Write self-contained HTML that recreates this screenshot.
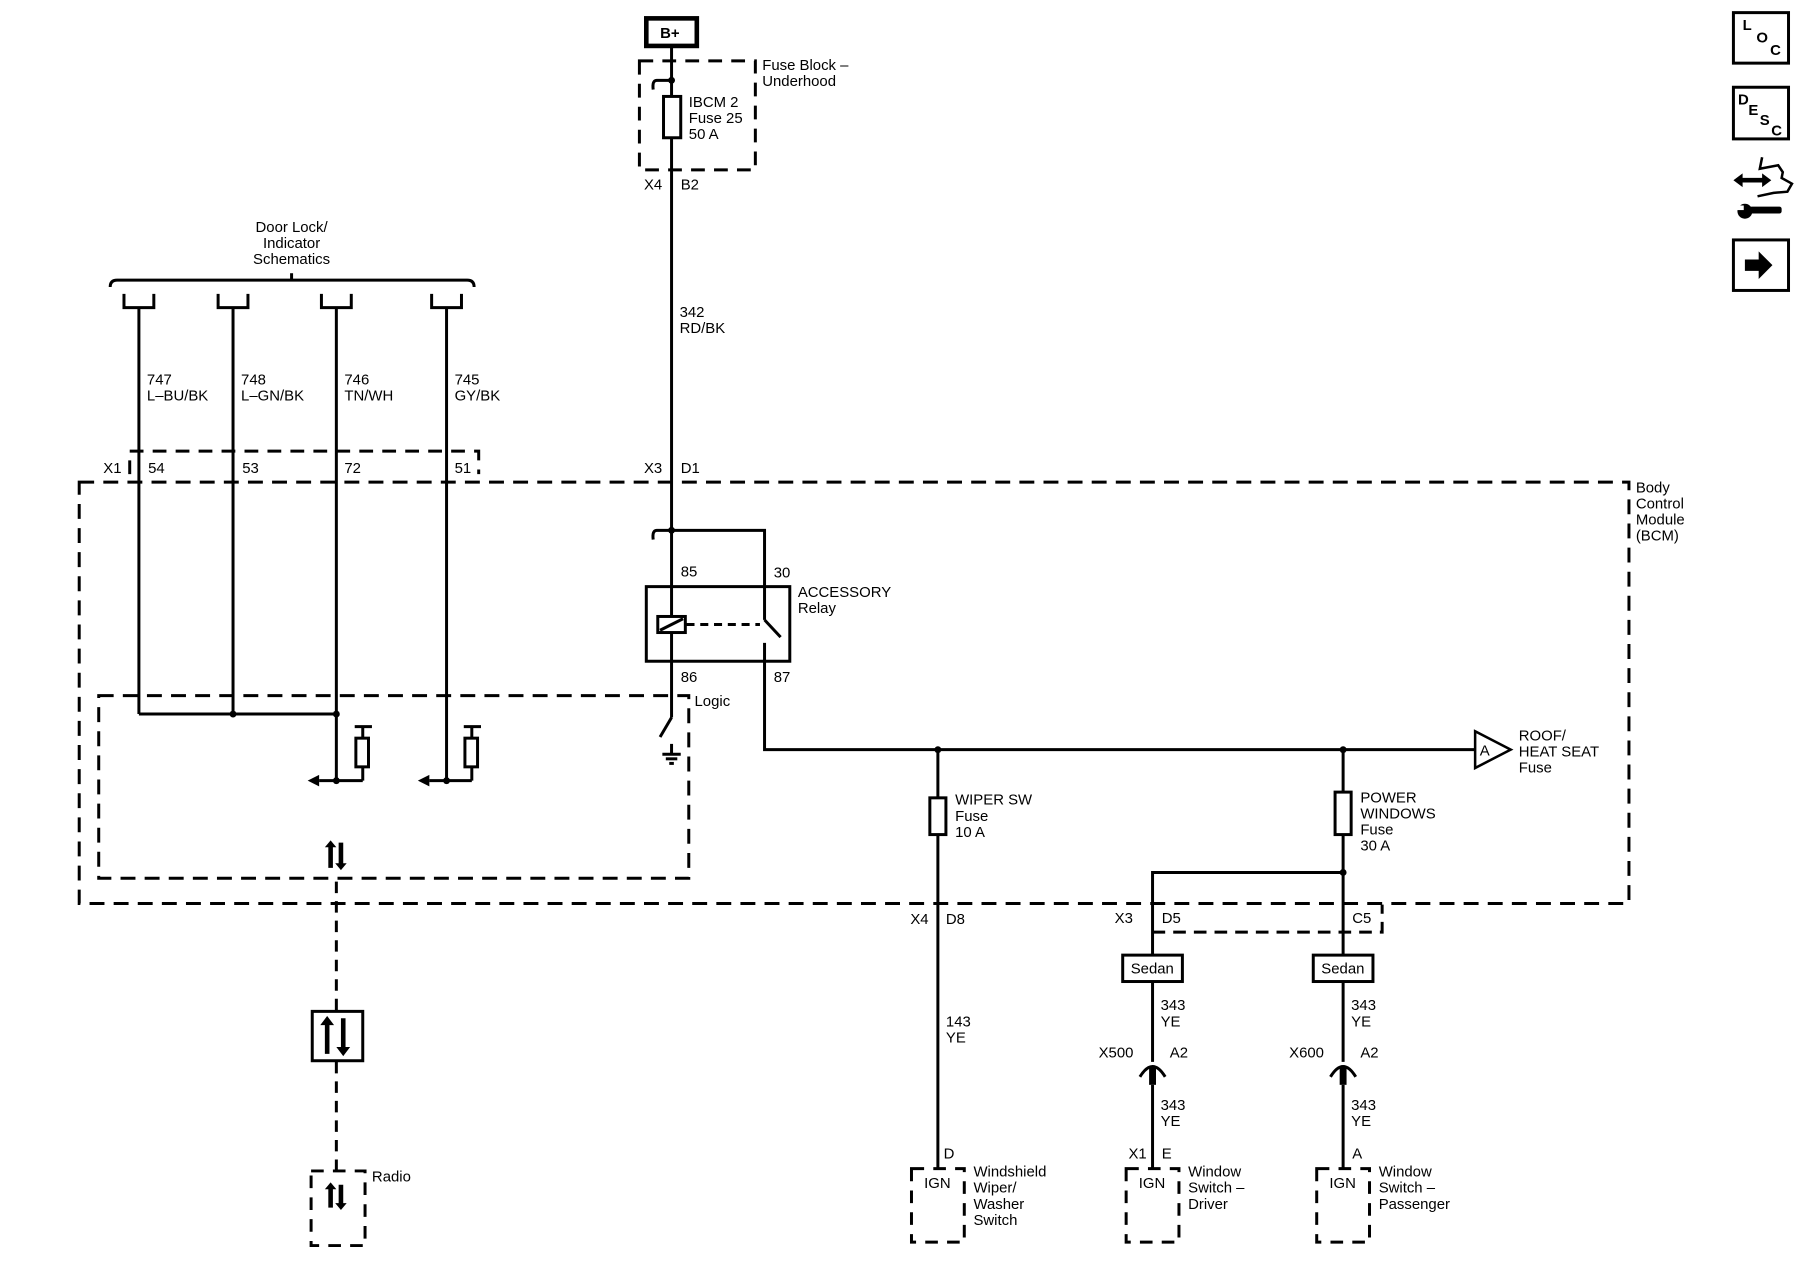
<!DOCTYPE html>
<html><head><meta charset="utf-8"><style>
html,body{margin:0;padding:0;background:#fff;}
svg{display:block;}
text{font-family:"Liberation Sans",sans-serif;font-size:13px;fill:#000;}
</style></head><body>
<svg width="1800" height="1280" viewBox="0 0 1568 1115" preserveAspectRatio="none" xmlns="http://www.w3.org/2000/svg">
<g stroke="#000" stroke-width="2.6" fill="none">
<rect x="563" y="16" width="44" height="24" stroke-width="4"/>
<rect x="557" y="53" width="101" height="95" stroke-dasharray="12,8"/>
<line x1="585" y1="40" x2="585" y2="625"/>
<path d="M585 70 H572 Q568 70 569 78"/>
<rect x="578" y="84" width="15" height="36" fill="#fff"/>
<rect x="69" y="420" width="1350" height="367" stroke-dasharray="13,8"/>
<path d="M113 413 V393 H417 V413" stroke-dasharray="12,8"/>
<rect x="86" y="606" width="514" height="159" stroke-dasharray="13,8"/>
<path d="M96 250 Q96 244 102 244 H407 Q413 244 413 250"/>
<line x1="254" y1="238" x2="254" y2="244"/>
<path d="M108 256 V268 H134 V256"/><path d="M190 256 V268 H216 V256"/><path d="M280 256 V268 H306 V256"/><path d="M376 256 V268 H402 V256"/>
<line x1="121" y1="268" x2="121" y2="622"/>
<line x1="203" y1="268" x2="203" y2="622"/>
<line x1="293" y1="268" x2="293" y2="680"/>
<line x1="389" y1="268" x2="389" y2="680"/>
<line x1="121" y1="622" x2="293" y2="622"/>
<line x1="278" y1="680" x2="316" y2="680"/><path d="M316 680 V668 M316 643 V633 M309 633 H324"/>
<rect x="310" y="643" width="11" height="25" fill="#fff"/>
<line x1="374" y1="680" x2="411" y2="680"/><path d="M411 680 V668 M411 643 V633 M404 633 H419"/>
<rect x="405" y="643" width="11" height="25" fill="#fff"/>
<line x1="293" y1="768" x2="293" y2="880" stroke-dasharray="10,7"/>
<line x1="293" y1="925" x2="293" y2="1020" stroke-dasharray="10,7"/>
<rect x="272" y="881" width="44" height="43"/>
<rect x="271" y="1020" width="47" height="65" stroke-dasharray="11,8"/>
<path d="M585 462 H666 V540"/>
<path d="M585 462 H572 Q568 462 569 470"/>
<rect x="563" y="511" width="125" height="65"/>
<rect x="573" y="537" width="24" height="14" fill="#fff"/>
<line x1="575" y1="549" x2="595" y2="539"/>
<line x1="598" y1="544" x2="662" y2="544" stroke-dasharray="7,5"/>
<line x1="666" y1="540" x2="680" y2="555"/>
<path d="M666 560 V653 H1285"/>
<path d="M585 625 L575 642"/>
<line x1="585" y1="648" x2="585" y2="657"/>
<line x1="577" y1="657" x2="593" y2="657"/><line x1="580" y1="661" x2="590" y2="661"/><line x1="583" y1="665" x2="587" y2="665"/>
<path d="M1285 637 L1316 653 L1285 669 Z" stroke-width="2.2"/>
<line x1="817" y1="653" x2="817" y2="1017"/>
<rect x="810" y="695" width="14" height="32" fill="#fff"/>
<rect x="794" y="1018" width="46" height="64" stroke-dasharray="11,8"/>
<line x1="1170" y1="653" x2="1170" y2="832"/>
<rect x="1163" y="690" width="14" height="37" fill="#fff"/>
<path d="M1170 760 H1004 V832"/>
<path d="M1004 812 H1204 V788" stroke-dasharray="11,7"/>
<rect x="978" y="832" width="52" height="23"/>
<rect x="1144" y="832" width="52" height="23"/>
<line x1="1004" y1="855" x2="1004" y2="925"/>
<line x1="1170" y1="855" x2="1170" y2="925"/>
<path d="M993 938 Q1004 920 1015 938"/><path d="M1159 938 Q1170 920 1181 938"/>
<line x1="1004" y1="945" x2="1004" y2="1017"/>
<line x1="1170" y1="945" x2="1170" y2="1017"/>
<rect x="981" y="1018" width="46" height="64" stroke-dasharray="11,8"/>
<rect x="1147" y="1018" width="46" height="64" stroke-dasharray="11,8"/>
<rect x="1510" y="11" width="48" height="44"/>
<rect x="1510" y="76" width="48" height="45"/>
<rect x="1510" y="209" width="48" height="44"/>
<path d="M1535 137 L1533 147 L1549 144 L1553 150 L1552 155 L1561 160 L1557 167 L1545 168 L1531 171" stroke-width="2.2"/>
</g>
<g fill="#000">
<path d="M1510 157 l8 -6 v4 h17 v-4 l8 6 -8 6 v-4 h-17 v4 z"/>
<rect x="1524" y="180" width="28" height="6" rx="2"/>
<circle cx="1520" cy="184" r="6.5"/>
<rect x="1512" y="179" width="7" height="4" fill="#fff"/>
<path d="M1520 226 h12 v-7 l12 12 l-12 12 v-7 h-12 z"/>
<circle cx="585" cy="70" r="3"/><circle cx="585" cy="462" r="3"/>
<circle cx="203" cy="622" r="3"/><circle cx="293" cy="622" r="3"/>
<circle cx="293" cy="680" r="3"/><circle cx="389" cy="680" r="3"/>
<path d="M268 680 l10 -5 v10 z"/><path d="M364 680 l10 -5 v10 z"/>
<circle cx="817" cy="653" r="3"/><circle cx="1170" cy="653" r="3"/><circle cx="1170" cy="760" r="3"/>
<rect x="1001" y="930" width="6" height="15"/><rect x="1167" y="930" width="6" height="15"/>
<path d="M286 756 V738 h-3 l5 -6 5 6 h-3 v18 z M295 734 v18 h-3 l5 6 5 -6 h-3 v-18 z"/>
<path d="M283 918 V893 h-4 l6 -8 6 8 h-4 v25 z M297 887 v25 h-4 l6 8 6 -8 h-4 v-25 z"/>
<path d="M286 1052 V1036 h-3 l5 -6 5 6 h-3 v16 z M295 1032 v16 h-3 l5 6 5 -6 h-3 v-16 z"/>
</g>
<g font-weight="bold"><text x="575" y="33">B+</text></g>
<text x="664" y="61">Fuse Block –</text><text x="664" y="75">Underhood</text>
<text x="600" y="93">IBCM 2</text><text x="600" y="107">Fuse 25</text><text x="600" y="121">50 A</text>
<text x="561" y="165">X4</text><text x="593" y="165">B2</text>
<text x="592" y="276">342</text><text x="592" y="290">RD/BK</text>
<text x="561" y="412">X3</text><text x="593" y="412">D1</text>
<text x="254" y="202" text-anchor="middle">Door Lock/</text><text x="254" y="216" text-anchor="middle">Indicator</text><text x="254" y="230" text-anchor="middle">Schematics</text>
<text x="128" y="335">747</text><text x="128" y="349">L–BU/BK</text>
<text x="210" y="335">748</text><text x="210" y="349">L–GN/BK</text>
<text x="300" y="335">746</text><text x="300" y="349">TN/WH</text>
<text x="396" y="335">745</text><text x="396" y="349">GY/BK</text>
<text x="90" y="412">X1</text><text x="129" y="412">54</text><text x="211" y="412">53</text><text x="300" y="412">72</text><text x="396" y="412">51</text>
<text x="1425" y="429">Body</text><text x="1425" y="443">Control</text><text x="1425" y="457">Module</text><text x="1425" y="471">(BCM)</text>
<text x="593" y="502">85</text><text x="674" y="503">30</text><text x="593" y="594">86</text><text x="674" y="594">87</text>
<text x="695" y="520">ACCESSORY</text><text x="695" y="534">Relay</text>
<text x="605" y="615">Logic</text>
<text x="1289" y="658">A</text>
<text x="1323" y="645">ROOF/</text><text x="1323" y="659">HEAT SEAT</text><text x="1323" y="673">Fuse</text>
<text x="832" y="701">WIPER SW</text><text x="832" y="715">Fuse</text><text x="832" y="729">10 A</text>
<text x="1185" y="699">POWER</text><text x="1185" y="713">WINDOWS</text><text x="1185" y="727">Fuse</text><text x="1185" y="741">30 A</text>
<text x="793" y="805">X4</text><text x="824" y="805">D8</text>
<text x="971" y="804">X3</text><text x="1012" y="804">D5</text><text x="1178" y="804">C5</text>
<text x="985" y="848">Sedan</text><text x="1151" y="848">Sedan</text>
<text x="1011" y="880">343</text><text x="1011" y="894">YE</text>
<text x="1177" y="880">343</text><text x="1177" y="894">YE</text>
<text x="957" y="921">X500</text><text x="1019" y="921">A2</text>
<text x="1123" y="921">X600</text><text x="1185" y="921">A2</text>
<text x="1011" y="967">343</text><text x="1011" y="981">YE</text>
<text x="1177" y="967">343</text><text x="1177" y="981">YE</text>
<text x="824" y="894">143</text><text x="824" y="908">YE</text>
<text x="822" y="1009">D</text><text x="983" y="1009">X1</text><text x="1012" y="1009">E</text><text x="1178" y="1009">A</text>
<text x="805" y="1035">IGN</text><text x="992" y="1035">IGN</text><text x="1158" y="1035">IGN</text>
<text x="848" y="1025">Windshield</text><text x="848" y="1039">Wiper/</text><text x="848" y="1053">Washer</text><text x="848" y="1067">Switch</text>
<text x="1035" y="1025">Window</text><text x="1035" y="1039">Switch –</text><text x="1035" y="1053">Driver</text>
<text x="1201" y="1025">Window</text><text x="1201" y="1039">Switch –</text><text x="1201" y="1053">Passenger</text>
<text x="324" y="1029">Radio</text>
<g font-size="12" font-weight="bold">
<text x="1518" y="26">L</text><text x="1530" y="37">O</text><text x="1542" y="48">C</text>
<text x="1514" y="91">D</text><text x="1523" y="100">E</text><text x="1533" y="109">S</text><text x="1543" y="118">C</text>
</g>
</svg>
</body></html>
